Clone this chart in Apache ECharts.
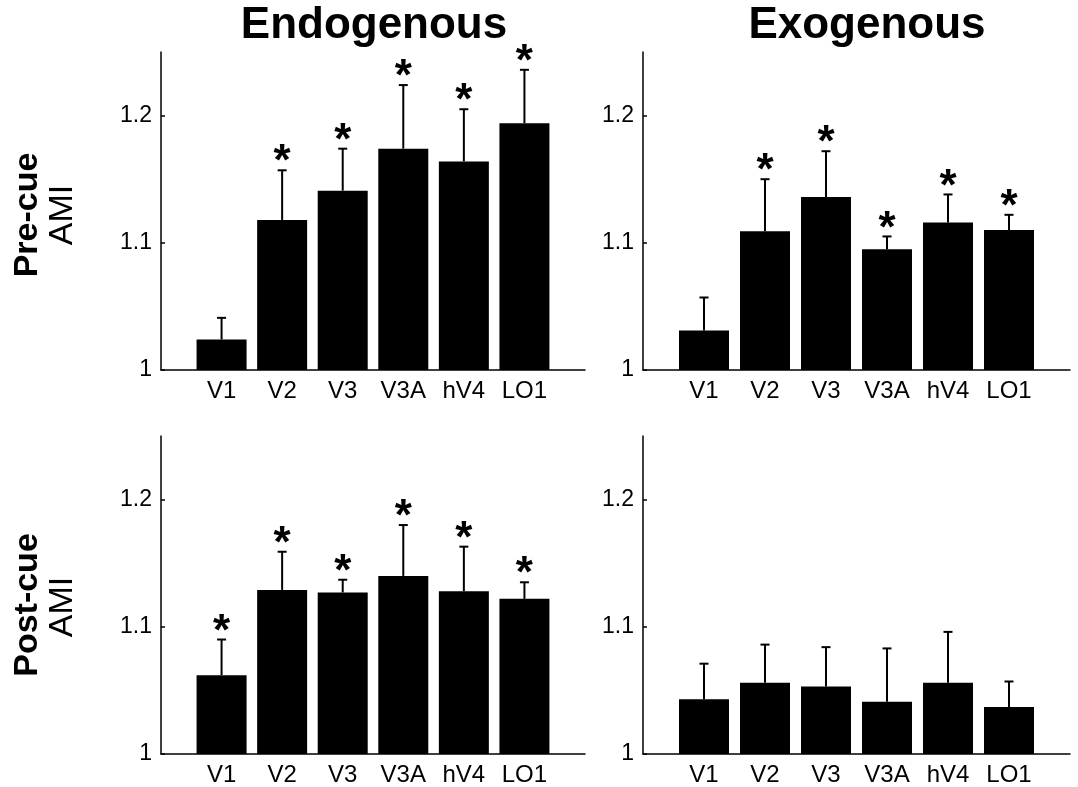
<!DOCTYPE html>
<html>
<head>
<meta charset="utf-8">
<script src="https://cdn.jsdelivr.net/npm/echarts@6/dist/echarts.min.js"></script>
<style>html,body{margin:0;padding:0;background:#fff;}#c{width:1078px;height:787px;}</style>
</head>
<body>
<div id="c"></div>
<script>
const categories = ['V1', 'V2', 'V3', 'V3A', 'hV4', 'LO1'];
const yTicks = [1, 1.1, 1.2];
const columnTitles = ['Endogenous', 'Exogenous'];
const rowTitles = ['Pre-cue', 'Post-cue'];
const yName = 'AMI';

const preEndoMean  = [1.024, 1.118, 1.141, 1.174, 1.164, 1.194];
const preEndoErr   = [1.041, 1.157, 1.174, 1.224, 1.205, 1.236];
const preEndoStar  = [0, 1, 1, 1, 1, 1];

const preExoMean   = [1.031, 1.109, 1.136, 1.095, 1.116, 1.110];
const preExoErr    = [1.057, 1.150, 1.172, 1.105, 1.138, 1.122];
const preExoStar   = [0, 1, 1, 1, 1, 1];

const postEndoMean = [1.062, 1.129, 1.127, 1.140, 1.128, 1.122];
const postEndoErr  = [1.090, 1.159, 1.137, 1.180, 1.163, 1.135];
const postEndoStar = [1, 1, 1, 1, 1, 1];

const postExoMean  = [1.043, 1.056, 1.053, 1.041, 1.056, 1.037];
const postExoErr   = [1.071, 1.086, 1.084, 1.083, 1.096, 1.057];
const postExoStar  = [0, 0, 0, 0, 0, 0];

const panels = [
  { mean: preEndoMean,  err: preEndoErr,  star: preEndoStar },
  { mean: preExoMean,   err: preExoErr,   star: preExoStar },
  { mean: postEndoMean, err: postEndoErr, star: postEndoStar },
  { mean: postExoMean,  err: postExoErr,  star: postExoStar }
];

const FONT = "'Liberation Sans', Arial, Helvetica, sans-serif";
const grids = [
  { left: 161, top: 52,  width: 424, height: 318 },
  { left: 643, top: 52,  width: 427, height: 318 },
  { left: 161, top: 436, width: 424, height: 318 },
  { left: 643, top: 436, width: 427, height: 318 }
];

const xAxes = [], yAxes = [], series = [];
panels.forEach((p, i) => {
  xAxes.push({
    type: 'value', gridIndex: i, min: 0, max: categories.length + 1,
    axisLine: { show: true, lineStyle: { color: '#000', width: 1.5 } },
    axisTick: { show: false },
    splitLine: { show: false },
    axisLabel: {
      customValues: categories.map((c, k) => k + 1),
      formatter: v => categories[Math.round(v) - 1] || '',
      color: '#000', fontSize: 24, fontFamily: FONT, margin: 9
    }
  });
  yAxes.push({
    type: 'value', gridIndex: i, min: 1, max: 1.25,
    axisLine: { show: true, lineStyle: { color: '#000', width: 1.5 } },
    axisTick: { show: true, inside: true, length: 4, customValues: yTicks, lineStyle: { color: '#000', width: 1.5 } },
    splitLine: { show: false },
    axisLabel: { customValues: yTicks, color: '#000', fontSize: 23, fontFamily: FONT, margin: 9 }
  });
  series.push({
    type: 'bar', xAxisIndex: i, yAxisIndex: i, barWidth: 50,
    itemStyle: { color: '#000' },
    data: p.mean.map((m, k) => [k + 1, m]),
    silent: true, animation: false
  });
  series.push({
    type: 'custom', xAxisIndex: i, yAxisIndex: i, animation: false, silent: true,
    data: p.mean.map((m, k) => [k + 1, m, p.err[k], p.star[k]]),
    renderItem: (params, api) => {
      const x = api.value(0);
      const base = api.coord([x, api.value(1)]);
      const top = api.coord([x, api.value(2)]);
      const children = [
        { type: 'line', shape: { x1: base[0], y1: base[1], x2: top[0], y2: top[1] }, style: { stroke: '#000', lineWidth: 2 } },
        { type: 'line', shape: { x1: top[0] - 4.5, y1: top[1], x2: top[0] + 4.5, y2: top[1] }, style: { stroke: '#000', lineWidth: 2 } }
      ];
      if (api.value(3)) {
        children.push({
          type: 'text',
          style: { text: '*', x: top[0], y: top[1] - 7, align: 'center', verticalAlign: 'middle',
                   font: "bold 44px " + FONT, fill: '#000' }
        });
      }
      return { type: 'group', children };
    }
  });
});

const graphics = [
  { type: 'text', x: 374, y: 26, style: { text: columnTitles[0], font: "bold 44px " + FONT, fill: '#000', align: 'center', verticalAlign: 'middle' } },
  { type: 'text', x: 867, y: 26, style: { text: columnTitles[1], font: "bold 44px " + FONT, fill: '#000', align: 'center', verticalAlign: 'middle' } },
  { type: 'text', x: 28, y: 215, rotation: Math.PI / 2, style: { text: rowTitles[0], font: "bold 34px " + FONT, fill: '#000', align: 'center', verticalAlign: 'middle' } },
  { type: 'text', x: 63, y: 215, rotation: Math.PI / 2, style: { text: yName, font: "34px " + FONT, fill: '#000', align: 'center', verticalAlign: 'middle' } },
  { type: 'text', x: 28, y: 605, rotation: Math.PI / 2, style: { text: rowTitles[1], font: "bold 34px " + FONT, fill: '#000', align: 'center', verticalAlign: 'middle' } },
  { type: 'text', x: 63, y: 607, rotation: Math.PI / 2, style: { text: yName, font: "34px " + FONT, fill: '#000', align: 'center', verticalAlign: 'middle' } }
];

const chart = echarts.init(document.getElementById('c'), null, { renderer: 'canvas' });
chart.setOption({
  backgroundColor: '#fff',
  animation: false,
  grid: grids,
  xAxis: xAxes,
  yAxis: yAxes,
  series: series,
  graphic: graphics
});
</script>
</body>
</html>
